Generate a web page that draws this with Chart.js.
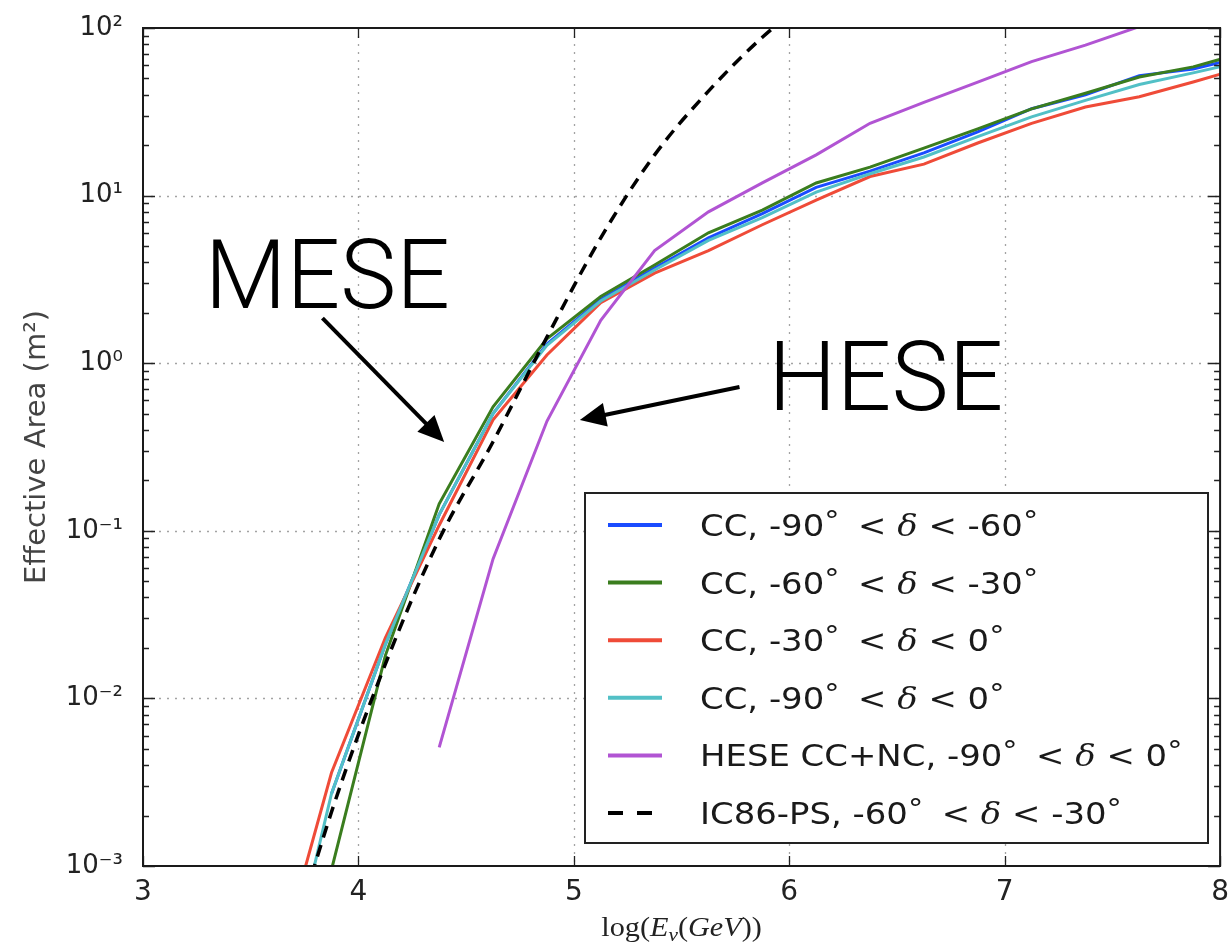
<!DOCTYPE html>
<html>
<head>
<meta charset="utf-8">
<script src="https://cdn.jsdelivr.net/npm/chart.js@4.4.0/dist/chart.umd.min.js"></script>
<style>
  html, body { margin: 0; padding: 0; background: #fff; }
  #wrap { width: 1231px; height: 945px; }
</style>
</head>
<body>
<div id="wrap"><canvas id="effArea" width="1231" height="945"></canvas></div>
<script>
// log10(E_nu / GeV), bin centres
const energyBins = [3.625, 3.875, 4.125, 4.375, 4.625, 4.875, 5.125, 5.375, 5.625, 5.875, 6.125, 6.375, 6.625, 6.875, 7.125, 7.375, 7.625, 7.875, 8.125];

// effective areas in m^2, one array per curve (null = no bin)
const ccDec90to60 = [null, 0.0027, 0.021, 0.125, 0.50, 1.30, 2.40, 3.70, 5.6, 7.8, 11.2, 14.0, 18.0, 24.0, 33.0, 40.0, 52.0, 57.0, 68.0];
const ccDec60to30 = [null, 0.00095, 0.018, 0.145, 0.55, 1.40, 2.50, 3.85, 6.0, 8.2, 11.9, 14.8, 19.2, 25.0, 32.9, 40.8, 51.0, 58.6, 72.0];
const ccDec30to0 = [0.00025, 0.0036, 0.023, 0.108, 0.46, 1.12, 2.30, 3.45, 4.7, 6.7, 9.4, 13.0, 15.4, 20.6, 27.0, 33.8, 38.9, 47.6, 59.0];
const ccDec90to0 = [0.00012, 0.0027, 0.021, 0.125, 0.50, 1.28, 2.35, 3.60, 5.4, 7.4, 10.5, 13.5, 17.0, 22.5, 29.5, 37.0, 46.0, 54.0, 64.0];
const heseDec90to0 = [null, null, null, 0.0051, 0.068, 0.45, 1.8, 4.7, 8.0, 11.9, 17.5, 27.0, 36.0, 47.6, 63.0, 79.0, 102, 125, null];
const ic86Dec60to30 = [0.00018, 0.0021, 0.016, 0.089, 0.34, 1.43, 5.6, 17.5, 42.0, 88.0, 160, null, null, null, null, null, null, null, null];

const seriesLabels = [
  "CC, -90°  < δ < -60°",
  "CC, -60°  < δ < -30°",
  "CC, -30°  < δ < 0°",
  "CC, -90°  < δ < 0°",
  "HESE CC+NC, -90°  < δ < 0°",
  "IC86-PS, -60°  < δ < -30°"
];
const seriesValues = [ccDec90to60, ccDec60to30, ccDec30to0, ccDec90to0, heseDec90to0, ic86Dec60to30];
const seriesColors = ["#1a4cff", "#3a7d1e", "#ef4b38", "#52c0c6", "#b154d3", "#000000"];

const xTicks = [3, 4, 5, 6, 7, 8];
const yTickExponents = [-3, -2, -1, 0, 1, 2];

const supDigits = { "-": "⁻", "0": "⁰", "1": "¹", "2": "²", "3": "³" };
const toSup = n => String(n).split("").map(c => supDigits[c]).join("");

// draws "CC, -90° < δ < ..." with raised degree rings and an italic delta
function drawMathLabel(ctx, text, x, baseY, size, sx) {
  ctx.save();
  ctx.translate(x, baseY);
  ctx.scale(sx, 1);
  ctx.textBaseline = "alphabetic";
  ctx.textAlign = "left";
  let cx = 0;
  text.split(/(°|δ)/).forEach(part => {
    if (!part) return;
    if (part === "°") {
      ctx.font = Math.round(size * 0.9) + "px 'DejaVu Sans'";
      ctx.fillText("°", cx, -size * 0.2);
      cx += ctx.measureText("°").width * 0.8;
    } else if (part === "δ") {
      ctx.font = "italic " + size + "px 'DejaVu Serif'";
      ctx.fillText("δ", cx, 0);
      cx += ctx.measureText("δ").width;
    } else {
      ctx.font = size + "px 'DejaVu Sans'";
      ctx.fillText(part, cx, 0);
      cx += ctx.measureText(part).width;
    }
  });
  ctx.restore();
}

function drawArrow(ctx, x0, y0, x1, y1, headLen, headHalf) {
  const ang = Math.atan2(y1 - y0, x1 - x0);
  const bx = x1 - headLen * Math.cos(ang), by = y1 - headLen * Math.sin(ang);
  ctx.beginPath();
  ctx.moveTo(x0, y0);
  ctx.lineTo(bx + 2 * Math.cos(ang), by + 2 * Math.sin(ang));
  ctx.stroke();
  ctx.beginPath();
  ctx.moveTo(x1, y1);
  ctx.lineTo(bx + headHalf * Math.sin(ang), by - headHalf * Math.cos(ang));
  ctx.lineTo(bx - headHalf * Math.sin(ang), by + headHalf * Math.cos(ang));
  ctx.closePath();
  ctx.fill();
}

// text + arrow annotations, placed in data coordinates
const callouts = [
  { text: "MESE", at: [3.287, 2.13], from: [3.833, 1.86], to: [4.398, 0.339], width: 245 },
  { text: "HESE", at: [5.903, 0.526], from: [5.769, 0.721], to: [5.028, 0.458], width: 235 }
];

const extras = {
  id: "extras",
  beforeDatasetsDraw(chart) {
    const { ctx, chartArea: a, scales: { x, y } } = chart;
    ctx.save();
    ctx.strokeStyle = "#a3a3a3";
    ctx.lineWidth = 1.3;
    ctx.setLineDash([2, 6]);
    xTicks.slice(1, -1).forEach(v => {
      const px = Math.round(x.getPixelForValue(v)) + 0.5;
      ctx.beginPath(); ctx.moveTo(px, a.top); ctx.lineTo(px, a.bottom); ctx.stroke();
    });
    yTickExponents.slice(1, -1).forEach(e => {
      const py = Math.round(y.getPixelForValue(Math.pow(10, e))) + 0.5;
      ctx.beginPath(); ctx.moveTo(a.left, py); ctx.lineTo(a.right, py); ctx.stroke();
    });
    ctx.restore();
  },
  afterDatasetsDraw(chart) {
    const { ctx, chartArea: a, scales: { x, y } } = chart;
    ctx.save();

    // tick marks, pointing inwards on all four sides
    ctx.strokeStyle = "#222";
    ctx.lineWidth = 1.3;
    xTicks.forEach(v => {
      const px = Math.round(x.getPixelForValue(v)) + 0.5;
      ctx.beginPath();
      ctx.moveTo(px, a.bottom); ctx.lineTo(px, a.bottom - 10);
      ctx.moveTo(px, a.top); ctx.lineTo(px, a.top + 10);
      ctx.stroke();
    });
    yTickExponents.forEach(e => {
      for (let m = 1; m <= 9; m++) {
        if (e === 2 && m > 1) break;
        const py = Math.round(y.getPixelForValue(m * Math.pow(10, e))) + 0.5;
        const len = m === 1 ? 12 : 6;
        ctx.beginPath();
        ctx.moveTo(a.left, py); ctx.lineTo(a.left + len, py);
        ctx.moveTo(a.right, py); ctx.lineTo(a.right - len, py);
        ctx.stroke();
      }
    });

    // axes frame
    ctx.strokeStyle = "#1a1a1a";
    ctx.lineWidth = 2;
    ctx.strokeRect(a.left, a.top, a.right - a.left, a.bottom - a.top);

    // x axis title: log(E_nu(GeV))
    ctx.fillStyle = "#222";
    ctx.textBaseline = "alphabetic";
    const pieces = [
      ["log(", "27px 'Liberation Serif'", 0],
      ["E", "italic 27px 'Liberation Serif'", 0],
      ["ν", "italic 19px 'Liberation Serif'", 5],
      ["(", "27px 'Liberation Serif'", 0],
      ["GeV", "italic 27px 'Liberation Serif'", 0],
      ["))", "27px 'Liberation Serif'", 0]
    ];
    let total = 0;
    pieces.forEach(p => { ctx.font = p[1]; total += ctx.measureText(p[0]).width; });
    const sxT = 1.12;
    let tx = (a.left + a.right) / 2 - total * sxT / 2;
    pieces.forEach(p => {
      ctx.font = p[1];
      ctx.save(); ctx.translate(tx, 936 + p[2]); ctx.scale(sxT, 1);
      ctx.fillText(p[0], 0, 0); ctx.restore();
      tx += ctx.measureText(p[0]).width * sxT;
    });

    // legend box
    ctx.fillStyle = "#fff";
    ctx.fillRect(585, 493, 623, 350);
    ctx.strokeStyle = "#222";
    ctx.lineWidth = 2;
    ctx.strokeRect(585, 493, 623, 350);
    chart.data.datasets.forEach((ds, i) => {
      const rowY = 525 + i * 57.6;
      ctx.strokeStyle = ds.borderColor;
      ctx.lineWidth = 4;
      ctx.setLineDash(ds.borderDash && ds.borderDash.length ? [15, 14] : []);
      ctx.beginPath(); ctx.moveTo(608, rowY); ctx.lineTo(662, rowY); ctx.stroke();
      ctx.setLineDash([]);
      ctx.fillStyle = "#1a1a1a";
      drawMathLabel(ctx, ds.label, 700, rowY + 11, 30, 1.13);
    });

    // MESE / HESE callouts
    ctx.fillStyle = "#000";
    ctx.strokeStyle = "#000";
    ctx.lineWidth = 4;
    callouts.forEach(c => {
      const tx0 = x.getPixelForValue(c.at[0]), ty0 = y.getPixelForValue(c.at[1]);
      ctx.font = "300 96px Roboto, Lato, 'Liberation Sans'";
      const w = ctx.measureText(c.text).width;
      ctx.save(); ctx.translate(tx0, ty0); ctx.scale(c.width / w, 1);
      ctx.fillText(c.text, 0, 0); ctx.restore();
      drawArrow(ctx,
        x.getPixelForValue(c.from[0]), y.getPixelForValue(c.from[1]),
        x.getPixelForValue(c.to[0]), y.getPixelForValue(c.to[1]), 26, 12);
    });
    ctx.restore();
  }
};

const datasets = seriesValues.map((vals, i) => ({
  label: seriesLabels[i],
  data: energyBins.map((e, j) => ({ x: e, y: vals[j] })),
  borderColor: seriesColors[i],
  backgroundColor: seriesColors[i],
  borderWidth: i === 5 ? 3.5 : 3,
  borderDash: i === 5 ? [12, 8] : [],
  cubicInterpolationMode: i === 5 ? "monotone" : "default",
  tension: 0,
  pointRadius: 0,
  fill: false,
  spanGaps: false,
  order: seriesValues.length - i
}));

const ctx = document.getElementById("effArea").getContext("2d");
const effChart = new Chart(ctx, {
  type: "line",
  data: { datasets: datasets },
  plugins: [extras],
  options: {
    responsive: false,
    animation: false,
    devicePixelRatio: 1,
    layout: { padding: { left: 0, top: 28, right: 8, bottom: 0 } },
    plugins: { legend: { display: false }, tooltip: { enabled: false } },
    scales: {
      x: {
        type: "linear",
        min: 3,
        max: 8,
        afterFit: s => { s.height = 79; },
        afterBuildTicks: s => { s.ticks = xTicks.map(v => ({ value: v })); },
        ticks: {
          color: "#222",
          font: { family: "DejaVu Sans", size: 28 },
          padding: 2,
          maxRotation: 0,
          autoSkip: false
        },
        grid: { display: false },
        border: { display: false }
      },
      y: {
        type: "logarithmic",
        min: 1e-3,
        max: 100,
        afterFit: s => { s.width = 143; },
        afterBuildTicks: s => { s.ticks = yTickExponents.map(e => ({ value: Math.pow(10, e) })); },
        ticks: {
          color: "#222",
          font: { family: "DejaVu Sans", size: 26 },
          padding: 12,
          autoSkip: false,
          callback: v => "10" + toSup(Math.round(Math.log10(v)))
        },
        title: {
          display: true,
          text: "Effective Area (m²)",
          color: "#444",
          font: { family: "DejaVu Sans", size: 29 },
          padding: { top: 20, bottom: 0 }
        },
        grid: { display: false },
        border: { display: false }
      }
    }
  }
});
</script>
</body>
</html>
